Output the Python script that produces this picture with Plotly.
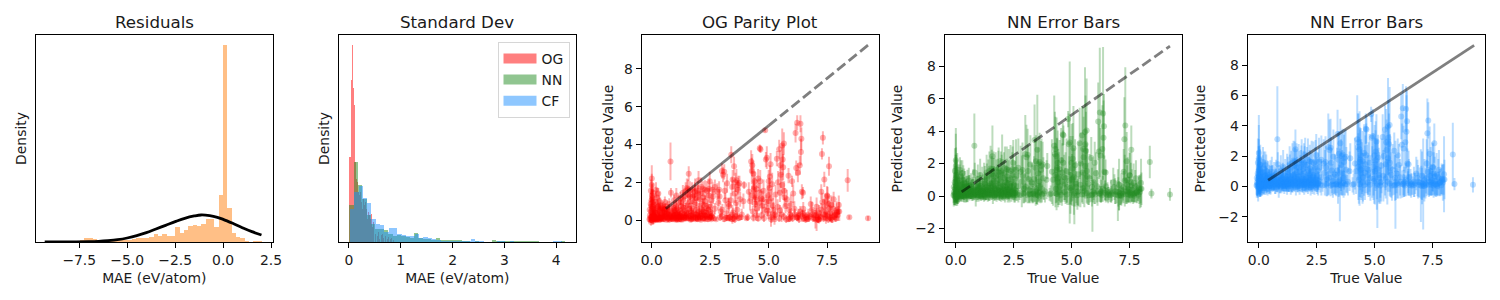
import numpy as np
import plotly.graph_objects as go

FONT = "DejaVu Sans"

# ---- histogram readings (arbitrary density units, y axis is hidden) ----
resid_start, resid_width = -9.30, 0.226
resid_heights = [0.5, 0.5, 0.5, 0.5, 0.5, 0.5, 0.5, 1, 6, 11, 12, 9, 3, 2, 4, 9, 4, 5, 6, 7, 9, 11, 12,
                 13, 15, 25, 18, 25, 19, 19, 45, 28, 36, 48, 50, 47, 55, 70, 70, 45, 141, 591, 101,
                 27, 14, 12, 4, 0.5, 3, 3]
normal_x = [-9.3, -8, -7, -6.5, -6, -5.5, -5, -4.5, -4, -3.5, -3, -2.5, -2, -1.5, -1.15, -0.7, -0.3, 0,
            0.5, 1, 1.5, 2.0]
normal_y = [0, 0.3, 1, 2, 4, 7, 12, 19, 28, 39, 50, 61, 71, 78, 81, 79, 74, 68, 56, 43, 31, 21]

og_start, og_width = -0.01, 0.0192
og_heights = [255, 255, 486, 591, 461, 411, 240, 190, 180, 150, 140, 150, 120, 100, 130, 110, 120, 100,
              70, 90, 80, 70, 85, 45, 60, 0, 25, 0, 18, 30, 10, 0, 20, 25, 12, 0, 18, 0, 10, 14, 0, 8, 12, 0, 6]
nn_start, nn_width = -0.0, 0.0833
nn_heights = [111, 240, 170, 130, 80, 55, 40, 38, 35, 25, 18, 22, 18, 15, 12, 26, 12, 10, 8, 5, 12, 6, 7, 5,
              7, 5, 4, 3, 1, 2, 1, 1, 1, 5, 3, 3, 3, 4, 3, 3, 3, 2, 2, 2, 0, 0, 0, 0, 0, 3]
cf_start, cf_width = 0.01, 0.0833
cf_heights = [100, 150, 168, 131, 117, 69, 53, 51, 31, 41, 41, 24, 21, 18, 17, 24, 12, 15, 12, 10, 5, 4, 4,
              3, 2, 4, 2, 2, 8, 2, 2, 1, 1, 1, 3, 2, 1, 3, 1, 1, 1, 1, 0, 0, 0, 0, 0, 3, 2, 0]

# ---- parity readings ----
true_value = [
    -0.10, -0.08, -0.06, -0.04, -0.02, 0.00, 0.02, 0.04, 0.06, 0.08,
    -0.09, -0.05, -0.03, -0.01, 0.00, 0.01, 0.03, 0.05, 0.07, 0.09,
    -0.07, -0.04, -0.02, 0.00, 0.02, 0.04, 0.06, 0.10, 0.12, 0.14,
    0.16, 0.18, 0.20, 0.22, 0.24, 0.26, 0.28, 0.30, 0.32, 0.34,
    0.36, 0.38, 0.40, 0.44, 0.48, 0.50, 0.54, 0.58, 0.62, 0.66,
    0.70, 0.74, 0.78, 0.80, 0.82, 0.86, 0.90, 0.94, 0.98, 1.02,
    1.06, 1.10, 1.14, 1.18, 1.22, 1.26, 1.30, 1.34, 1.38, 1.42,
    1.46, 1.50, 1.54, 1.58, 1.60, 1.64, 1.68, 1.72, 1.76, 1.80,
    1.84, 1.88, 1.92, 1.96, 2.00, 2.04, 2.08, 2.12, 2.16, 2.20,
    2.24, 2.28, 2.32, 2.36, 2.40, 2.44, 2.48, 2.52, 2.56, 2.60,
    1.10, 1.30, 1.50, 1.70, 1.90, 2.10, 2.30, 2.50, 2.70, 2.75,
    0.30, 0.55, 0.85, 1.00, 1.20, 1.40, 1.60, 1.80, 2.00, 2.20,
    2.85, 2.95, 3.00, 3.05, 3.10, 3.15, 3.20, 3.30, 3.35, 3.40,
    3.42, 3.46, 3.50, 3.52, 3.55, 3.60, 3.62, 3.66, 3.70, 3.75,
    3.78, 3.85, 3.95, 4.05, 4.10, 4.15, 4.20, 4.25, 4.28, 4.30,
    4.32, 4.35, 4.38, 4.40, 4.42, 4.45, 4.48, 4.50, 4.55, 4.60,
    4.62, 4.65, 4.68, 4.72, 4.78, 4.85, 4.88, 4.92, 4.95, 4.98,
    5.00, 5.02, 5.05, 5.08, 5.12, 5.15, 5.20, 5.25, 5.30, 5.35,
    5.40, 5.45, 5.48, 5.50, 5.52, 5.55, 5.58, 5.60, 5.62, 5.65,
    5.68, 5.72, 5.78, 5.85, 5.90, 5.92, 5.95, 6.00, 6.05, 6.10,
    6.15, 6.18, 6.20, 6.22, 6.25, 6.28, 6.30, 6.33, 6.36, 6.38,
    6.40, 6.42, 6.44, 6.47, 6.50, 6.55, 6.60, 6.70, 6.80, 6.85,
    6.90, 6.95, 7.00, 7.05, 7.10, 7.15, 7.20, 7.25, 7.28, 7.30,
    7.32, 7.35, 7.38, 7.42, 7.45, 7.50, 7.52, 7.55, 7.58, 7.60,
    7.63, 7.68, 7.72, 7.78, 7.85, 7.90, 8.00, 8.02, 8.38, 8.45,
    9.25, 0.12, 0.20, 0.35, 0.42, 0.46, 0.52, 0.60, 0.65, 0.72,
    0.76, 0.84, 0.92, 0.96, 1.04, 1.08, 1.12, 1.16, 1.24, 1.28,
    1.36, 1.44, 1.52, 1.56, 1.62, 1.66, 1.74, 1.78, 1.86, 1.94,
    1.98, 2.06, 2.14, 2.18, 2.26, 2.34, 2.42, 2.46, 2.54, 2.65,
    4.95, 5.25, 5.45, 5.65, 5.85, 6.25, 6.45, 6.65, 6.75, 7.05,
    3.25, 3.45, 3.55, 3.65, 3.80, 4.35, 4.55, 4.70, 4.80, 5.10,
    7.15, 7.22, 7.35, 7.42, 7.50, 7.62, 7.70, 7.80, 7.88, 7.95,
    0.02, 0.06, 0.10, 0.13, 0.17, 0.21, 0.25, 0.29, 0.33, 0.37,
    0.45, 0.56, 0.68, 0.75, 0.88, 0.95, 1.03, 1.15, 1.25, 1.35,
    1.40, 1.48, 1.55, 1.65, 1.72, 1.82, 1.90, 1.98, 2.05, 2.15,
    2.20, 2.28, 2.38, 2.45, 2.55, 2.62, 1.05, 1.22, 1.33, 1.45,
    1.55, 1.63, 1.75, 1.85, 1.95, 2.02, 2.12, 2.22, 2.35, 2.50,
    0.52, 0.64, 0.72, 0.88, 1.02, 1.18, 1.32, 1.48, 1.68, 1.88,
    2.05, 2.25, 2.42, 2.58, 0.28, 0.34, 0.44, 0.50, 0.58, 0.15,
    2.90, 3.02, 3.12, 3.18, 3.28, 3.38, 3.48, 3.58, 3.68, 3.72,
    4.30, 4.36, 4.42, 4.48, 4.58, 4.64, 4.74, 4.82, 4.90, 5.04,
    5.10, 5.18, 5.28, 5.38, 5.48, 5.58, 5.66, 5.75, 5.88, 5.98,
    6.02, 6.12, 6.26, 6.35, 6.48, 6.58, 6.72, 6.88, 7.02, 7.12,
    7.25, 7.40, 7.48, 7.56, 7.66, 7.75, 7.82, 7.92, 7.98, 3.92,
    2.70, 2.80, 2.88, 2.92, 3.00, 3.10, 3.22, 3.32, 3.44, 3.58,
    0.08, 0.18, 0.27, 0.38, 0.47, 0.57, 0.67, 0.77, 0.87, 0.97,
    1.07, 1.17, 1.27, 1.37, 1.47, 1.57, 1.67, 1.77, 1.87, 1.97,
    2.07, 2.17, 2.27, 2.37, 2.47, 2.57, 0.03, 0.09, 0.16, 0.23,
    0.33, 0.43, 0.53, 0.63, 0.73, 0.83, 0.93, 1.03, 1.13, 1.23,
]
pred_value = [
    0.05, 0.25, 0.00, 0.45, 0.15, 0.02, 0.60, 0.10, 0.30, 0.08,
    0.55, 0.85, -0.10, 1.05, 2.20, 1.30, 0.70, 0.95, 0.20, 0.50,
    0.12, 1.55, 0.75, 1.85, 1.15, 0.35, 1.45, 0.80, 0.10, 0.40,
    0.95, 1.60, 0.25, 1.20, 0.05, 0.70, 1.40, 0.15, 1.00, 0.45,
    0.80, 0.10, 0.75, 0.30, 0.55, 0.05, 0.55, 0.60, 0.20, 0.70,
    0.10, 0.45, 0.25, 3.10, 1.45, 0.05, 0.35, 0.65, 0.15, 0.30,
    0.60, 0.10, 0.90, 0.25, 0.05, 0.75, 0.35, 1.10, 0.15, 0.50,
    0.20, 1.70, 0.80, 2.45, 0.10, 1.25, 0.40, 1.60, 0.15, 0.95,
    1.50, 0.30, 1.15, 0.05, 2.10, 0.60, 1.40, 0.20, 0.85, 1.65,
    0.10, 1.00, 0.40, 1.55, 0.05, 1.30, 2.05, 0.70, 0.20, 1.60,
    0.02, 0.15, 0.30, 0.05, 0.10, 0.02, 0.22, 0.12, 1.75, 0.05,
    0.22, 0.30, 0.12, 0.45, 0.30, 0.28, 0.60, 0.35, 0.25, 0.45,
    0.90, 0.45, 2.60, 2.40, 2.55, 1.05, 0.35, 0.75, 0.15, 3.45,
    0.05, 2.15, 0.10, 2.85, 1.40, 0.90, 2.10, 0.55, 1.85, 1.95,
    1.10, 0.30, 1.85, 0.10, 0.15, 1.50, 1.00, 3.10, 2.60, 2.90,
    0.45, 2.45, 1.75, 2.05, 0.85, 1.20, 0.25, 0.60, 2.20, 1.45,
    3.80, 3.75, 1.15, 0.75, 1.55, 4.75, 3.20, 3.30, 1.30, 0.35,
    2.05, 1.00, 2.30, 2.95, 0.15, 1.90, 0.55, 0.05, 1.35, 3.25,
    2.00, 3.75, 1.45, 2.90, 2.40, 0.30, 3.95, 3.20, 2.80, 4.05,
    1.20, 0.75, 1.10, 2.35, 0.10, 0.30, 0.85, 2.05, 1.40, 0.60,
    4.60, 2.75, 0.15, 5.15, 2.50, 0.30, 0.05, 2.90, 5.10, 3.60,
    4.30, 1.50, 0.20, 1.45, 0.10, 0.25, 0.15, 0.30, 0.85, 0.55,
    0.10, 0.25, 0.05, 0.70, 0.15, 0.40, 0.20, 1.50, 3.50, 0.95,
    4.35, 0.30, 2.15, 1.00, 0.10, 1.30, 1.25, 0.05, 2.85, 0.65,
    0.35, 0.80, 0.15, 1.10, 0.30, 0.50, 0.80, 0.45, 2.10, 0.15,
    0.10, 0.05, 0.00, 0.02, 0.12, 0.05, 0.18, 0.02, 0.32, 0.00,
    0.12, 0.15, 0.05, 0.25, 0.10, 0.30, 0.20, 0.05, 0.22, 0.12,
    0.05, 0.12, 0.08, 0.35, 0.22, 0.02, 0.30, 0.08, 0.15, 0.30,
    0.18, 0.08, 0.35, 0.10, 0.25, 0.12, 0.30, 0.15, 0.05, 0.10,
    0.50, 0.25, 0.10, 0.18, 0.05, 0.12, 0.35, 0.05, 0.20, 0.02,
    0.10, 0.30, 0.05, 0.22, 0.15, 0.12, 0.08, 0.25, 0.10, 0.05,
    0.02, 0.12, 0.10, 0.30, 0.22, 0.15, 0.02, 0.20, 0.08, 0.25,
    0.18, -0.05, 0.35, 0.15, 0.40, 0.02, 0.30, 0.55, 0.08, 0.25,
    0.62, 0.95, 0.42, 0.85, 0.60, 1.05, 0.75, 0.52, 0.95, 0.65,
    1.25, 0.75, 1.35, 0.95, 0.62, 1.30, 0.80, 1.45, 1.10, 0.55,
    1.20, 1.60, 0.75, 1.65, 1.05, 1.25, 1.30, 1.15, 1.45, 1.55,
    1.65, 1.55, 1.25, 1.70, 1.55, 0.45, 1.75, 0.80, 0.62, 0.45,
    0.42, 0.32, 0.55, 0.40, 0.52, 0.42, 0.55, 0.38, 0.48, 0.52,
    0.32, 0.42, 0.55, 0.35, 0.72, 0.52, 0.45, 0.62, 0.58, 0.62,
    1.25, 0.55, 1.55, 0.12, 0.85, 1.05, 0.40, 0.20, 1.60, 0.10,
    1.30, 1.60, 1.10, 1.65, 0.90, 2.05, 1.10, 0.55, 0.95, 1.70,
    1.15, 0.75, 0.30, 0.70, 0.50, 1.85, 1.55, 0.05, 0.55, 0.20,
    0.10, 0.30, 0.20, 0.45, 0.60, 0.05, 0.10, 0.30, 0.25, 0.05,
    0.55, 0.70, 0.40, 0.85, 0.10, 0.60, 0.25, 0.40, 0.45, 1.00,
    0.60, 1.50, 1.60, 0.15, 0.20, 0.05, 1.95, 0.12, 1.75, 2.00,
    0.22, 0.12, 0.08, 0.18, 0.22, 0.10, 0.15, 0.05, 0.22, 0.08,
    0.18, 0.12, 0.02, 0.22, 0.10, 0.18, 0.12, 0.22, 0.05, 0.12,
    0.15, 0.25, 0.05, 0.20, 0.22, 0.18, -0.02, 0.12, 0.05, 0.15,
    0.02, 0.08, 0.25, 0.12, 0.30, 0.20, 0.30, 0.02, 0.32, 0.15,
]
err_og = [
    .15, .3, .15, .4, .2, .15, .5, .2, .3, .15,
    .5, .6, .2, .6, .7, .6, .5, .6, .3, .5,
    .2, .6, .5, .6, .5, .3, .5, .5, .2, .4,
    .5, .4, .3, .5, .15, .4, .3, .2, .5, .3,
    .4, .2, .3, .3, .4, .15, .3, .3, .2, .35,
    .2, .3, .2, 1.0, .25, .15, .3, .3, .2, .25,
    .3, .2, .4, .2, .15, .3, .25, .4, .2, .3,
    .2, .5, .3, .4, .15, .4, .3, .4, .2, .4,
    .5, .2, .4, .15, .5, .3, .4, .2, .3, .4,
    .15, .3, .25, .5, .15, .4, .5, .3, .2, .4,
    .1, .15, .2, .15, .15, .1, .2, .15, .4, .1,
    .15, .2, .15, .25, .2, .2, .3, .2, .15, .25,
    .4, .3, .4, .4, .4, .4, .3, .4, .2, .45,
    .15, .5, .2, .5, .5, .5, .6, .4, .5, .4,
    .4, .3, .2, .1, .2, .5, .5, .6, .7, .6,
    .3, .7, .5, .5, .4, .4, .3, .4, .5, .5,
    .2, .2, .5, .4, .6, .1, .4, .6, .6, .3,
    .6, .5, .6, .6, .3, .6, .4, .3, .5, .4,
    .6, .5, .5, .8, .7, .4, .9, .8, .7, .6,
    .5, .4, .5, .4, .2, .3, .5, .3, .5, .4,
    .5, .4, .2, .4, .5, .3, .2, .5, .45, .7,
    .6, .4, .3, .3, .2, .3, .2, .3, .4, .4,
    .2, .3, .5, .5, .3, .4, .3, .4, .3, .5,
    .35, .3, .4, .4, .3, .5, .5, .2, .5, .4,
    .4, .5, .3, .4, .4, .5, .5, .5, .6, .1,
    .12, .1, .1, .1, .1, .1, .15, .1, .2, .1,
    .15, .15, .1, .2, .1, .2, .15, .1, .15, .1,
    .1, .15, .1, .2, .15, .1, .2, .1, .15, .2,
    .15, .1, .2, .1, .15, .1, .2, .15, .1, .15,
    .3, .2, .2, .2, .15, .15, .2, .15, .2, .6,
    .15, .5, .2, .2, .15, .2, .15, .2, .2, .4,
    .2, .2, .2, .3, .25, .2, .15, .2, .15, .3,
    .15, .2, .25, .15, .3, .1, .25, .35, .1, .2,
    .25, .3, .25, .3, .25, .3, .3, .25, .35, .3,
    .4, .3, .4, .35, .3, .4, .35, .4, .4, .25,
    .4, .5, .3, .5, .4, .4, .4, .35, .4, .45,
    .5, .5, .4, .5, .5, .25, .5, .35, .3, .25,
    .25, .2, .3, .25, .3, .25, .3, .2, .3, .3,
    .2, .25, .3, .2, .35, .3, .25, .4, .3, .35,
    .4, .3, .45, .15, .35, .4, .25, .2, .5, .15,
    .5, .5, .45, .5, .4, .6, .45, .3, .4, .55,
    .5, .4, .3, .4, .3, .6, .5, .2, .35, .2,
    .2, .3, .2, .3, .35, .2, .2, .3, .3, .2,
    .35, .4, .3, .45, .2, .35, .25, .3, .3, .4,
    .3, .45, .45, .2, .2, .15, .5, .2, .5, .5,
    .12, .1, .12, .1, .12, .1, .12, .1, .12, .1,
    .1, .12, .1, .12, .1, .12, .1, .12, .1, .12,
    .12, .1, .12, .1, .12, .1, .12, .1, .12, .1,
    .1, .12, .1, .12, .1, .12, .1, .12, .1, .12,
]
err_nn = [
    .5, .8, .4, 1.0, .6, .4, 1.2, .5, .9, .4,
    1.2, 1.4, .5, 1.5, 2.0, 1.7, 1.2, 1.3, .7, 1.0,
    .5, 1.4, 1.1, 2.0, 1.4, .8, 1.2, 1.0, .5, .8,
    1.0, .8, .6, 1.0, .4, .9, .8, .5, .9, .7,
    .9, .5, .8, .7, .7, .4, .7, .7, .4, .7,
    .4, .6, .5, 2.0, .6, .7, .7, .6, .5, .5,
    .7, .4, .9, .5, .4, .7, .6, .9, .5, .8,
    .5, 1.4, .9, 1.9, .6, 1.1, .7, 1.1, .5, 1.0,
    1.3, .6, 1.2, .4, 1.7, .9, 1.3, .6, 1.0, 1.4,
    .5, 1.2, .8, 1.6, .4, 1.4, 1.4, 1.1, .6, 1.9,
    .3, .4, .5, .3, .4, .3, .5, .4, 1.8, .3,
    .4, .5, .3, .6, .5, .5, .8, .6, .5, .7,
    1.6, .9, 2.4, 2.0, 1.6, 1.5, .8, 1.2, .6, 2.2,
    .4, 1.6, .6, 3.4, 1.6, 1.2, 1.8, 1.0, 1.7, 1.4,
    1.3, .7, .8, .4, .5, 2.0, 1.6, 3.1, 2.6, 2.0,
    .9, 2.4, 1.8, 2.0, 1.4, 1.5, .8, 1.0, 2.0, 1.8,
    .7, .6, 1.4, 1.0, 2.0, .5, 1.9, 5.0, 2.4, .9,
    2.4, 1.6, 2.2, 2.6, 1.9, 1.6, 1.0, .9, 2.0, 2.2,
    1.9, 1.8, 1.5, 2.6, 2.5, 1.0, 4.0, 3.0, 2.4, 3.2,
    1.7, 1.3, 1.5, 1.3, 2.3, .7, 1.1, 1.3, 1.3, 1.0,
    2.4, 1.7, .5, 4.0, 1.7, .7, .4, 2.7, 4.1, 2.3,
    2.0, 1.0, .5, .8, .4, .6, .4, .7, .9, .8,
    .6, .7, 1.6, 1.6, .7, 1.0, .6, 1.4, 2.6, 1.6,
    3.6, .8, 1.8, 1.4, .5, 1.4, 1.4, .5, 1.5, 1.0,
    .7, 1.2, .5, 1.1, .6, .7, 1.5, 1.0, 1.0, .3,
    .4, .4, .3, .4, .3, .4, .4, .3, .5, .3,
    .4, .4, .3, .5, .3, .5, .4, .3, .5, .4,
    .3, .4, .3, .6, .4, .3, .5, .3, .4, .5,
    .4, .3, .5, .3, .4, .3, .5, .4, .3, .4,
    1.0, .8, .5, .6, .4, .5, .6, .4, .5, .9,
    .4, .9, .4, .6, .4, 1.0, .5, .6, .5, 1.2,
    .5, .4, .5, .7, .6, .5, .4, .6, .4, 1.0,
    .5, .4, .6, .4, .6, .3, .5, .7, .3, .5,
    .6, .8, .6, .8, .7, .9, .7, .6, .9, .8,
    1.0, .8, 1.1, .9, .7, 1.0, .8, 1.1, 1.0, .7,
    1.1, 1.3, .8, 1.4, 1.1, 1.2, 1.0, .9, 1.1, 1.2,
    1.2, 1.2, 1.0, 1.3, 1.2, .6, 1.3, .9, .7, .6,
    .5, .5, .6, .5, .6, .5, .6, .5, .6, .7,
    .5, .6, .7, .5, .7, .6, .6, 1.0, .7, .8,
    1.3, .9, 1.6, .5, 1.2, 1.4, .9, .6, 1.8, .5,
    2.0, 2.0, 1.8, 1.8, 1.5, 2.0, 1.6, 1.1, 1.5, 2.0,
    1.8, 1.4, .9, 1.4, 1.0, 2.0, 1.7, .6, 1.2, .7,
    .6, .9, .6, .8, 1.0, .5, .5, .8, .9, .6,
    1.0, 1.2, .8, 1.2, .6, 1.0, .7, .9, .9, 1.2,
    1.0, 1.6, 1.7, .6, .6, .5, 1.8, .5, 1.8, 1.7,
    .3, .25, .3, .2, .3, .25, .3, .2, .3, .25,
    .2, .3, .25, .3, .2, .3, .25, .3, .2, .3,
    .25, .3, .2, .3, .25, .3, .2, .3, .25, .3,
    .2, .3, .25, .3, .2, .3, .25, .3, .2, .3,
]
err_cf = [
    .6, .9, .6, 1.2, .7, .5, 1.3, .6, 1.0, .5,
    1.3, 1.5, .9, 1.6, 2.5, 1.8, 1.3, 1.5, .9, 1.1,
    .7, 1.6, 1.2, 2.2, 1.5, 1.0, 1.3, 1.1, .7, 1.0,
    1.1, 1.0, .8, 1.1, .6, 1.0, .9, .7, 1.1, .8,
    .9, .7, .9, .8, .8, .6, .8, .8, .5, .9,
    .6, .7, .6, 3.5, .8, .8, .8, .7, .6, .6,
    .8, .6, .9, .6, .6, .8, .7, 1.0, .7, .9,
    .6, 1.3, 1.0, 1.3, .7, 1.2, .8, 1.2, .7, 1.1,
    1.2, .7, 1.2, .6, 1.1, 1.0, 1.2, .7, 1.1, 1.1,
    .7, 1.2, .9, 1.4, .6, 1.3, 1.4, 1.2, .8, 1.6,
    .4, .5, .6, .4, .5, .4, .6, .5, 1.6, .4,
    .5, .6, .4, .7, .6, .6, .8, .7, .6, .8,
    1.5, 1.1, 2.2, 2.0, 1.9, 1.5, 1.1, 1.3, .8, 1.6,
    1.2, 1.5, 2.4, 1.6, 1.7, 1.5, 1.7, 1.3, 1.9, 1.8,
    1.5, .9, 1.0, .5, .7, 1.7, 1.5, 2.9, 2.2, 1.9,
    1.6, 2.5, 2.0, 1.8, 1.6, 1.7, 1.4, 1.6, 1.9, 1.9,
    1.0, .9, 1.6, 1.3, 1.9, .5, 1.5, 1.8, 2.2, 1.5,
    2.0, 2.2, 2.0, 1.8, 2.9, 1.5, 1.7, 1.2, 1.8, 1.5,
    1.6, 1.6, 1.7, 2.2, 2.0, 1.5, 3.2, 2.5, 2.0, 2.5,
    1.9, 1.5, 1.7, 1.2, 2.9, 1.2, 1.3, 1.1, 1.4, 1.2,
    1.5, 1.4, .9, 1.6, 1.5, 1.0, .7, 2.0, 1.5, 2.4,
    2.0, 1.0, .8, .9, .7, .9, .7, 1.0, 1.1, 1.2,
    .8, 1.0, 2.4, 1.6, 3.0, 1.4, 1.0, 1.6, 2.3, 1.5,
    1.2, 1.0, 1.8, 1.6, .7, 1.6, 1.6, .8, 1.3, 1.3,
    1.0, 1.4, .8, 1.3, .9, 1.0, 2.5, 1.3, 2.1, .4,
    .5, .5, .5, .5, .5, .5, .5, .4, .6, .5,
    .5, .5, .5, .6, .4, .6, .5, .4, .6, .5,
    .4, .5, .4, .7, .5, .4, .6, .4, .5, .6,
    .5, .4, .6, .4, .5, .4, .6, .5, .4, .5,
    1.1, 1.0, .7, .8, .6, .7, .8, .6, .7, 1.2,
    .6, 1.0, .6, .8, .6, 1.4, .7, .8, .7, 1.6,
    .7, .6, .7, .9, .8, .7, .6, .8, .6, 1.2,
    .6, .6, .7, .6, .7, .5, .7, .8, .5, .6,
    .8, 1.0, .7, .9, .8, 1.0, .8, .7, 1.0, .9,
    1.1, .9, 1.2, 1.0, .8, 1.1, .9, 1.2, 1.1, .8,
    1.2, 1.4, .9, 1.4, 1.2, 1.3, 1.1, 1.0, 1.2, 1.3,
    1.3, 1.3, 1.1, 1.4, 1.3, .7, 1.4, 1.0, .8, .7,
    .6, .6, .7, .6, .7, .6, .7, .6, .7, .8,
    .6, .7, .8, .6, .8, .7, .7, 1.1, .8, .9,
    1.4, 1.1, 1.7, .7, 1.3, 1.5, 1.0, .8, 1.8, .7,
    2.2, 2.3, 2.0, 2.0, 1.8, 2.1, 1.8, 1.5, 1.7, 2.0,
    2.0, 1.8, 1.3, 1.7, 1.3, 2.2, 1.9, 1.0, 1.5, 1.0,
    .9, 1.1, .9, 1.1, 1.2, .8, .8, 1.1, 1.1, .8,
    1.2, 1.3, 1.0, 1.4, .8, 1.2, .9, 1.0, 1.0, 1.3,
    1.2, 1.6, 1.7, .8, .8, .7, 1.8, .7, 1.8, 1.7,
    .4, .35, .4, .3, .4, .35, .4, .3, .4, .35,
    .3, .4, .35, .4, .3, .4, .35, .4, .3, .4,
    .35, .4, .3, .4, .35, .4, .3, .4, .35, .4,
    .3, .4, .35, .4, .3, .4, .35, .4, .3, .4,
]

parity_og_solid = [0.6, 5.0]
parity_og_dashed = [5.0, 9.25]
parity_nn_dashed = [0.25, 9.25]
parity_cf_solid = [0.4, 9.3]

# ---- layout readings (window pixels); the page body keeps its default 8px margin ----
PAGE_MARGIN = 8
PANEL_LEFT = [35.5, 338.5, 641.5, 944.5, 1247.5]
PANEL_W = 237.5
PANEL_TOP, PANEL_BOTTOM = 35.0, 242.0
W, H = 1484, 284

titles = ["Residuals", "Standard Dev", "OG Parity Plot", "NN Error Bars", "NN Error Bars"]
x_titles = ["MAE (eV/atom)", "MAE (eV/atom)", "True Value", "True Value", "True Value"]
y_titles = ["Density", "Density", "Predicted Value", "Predicted Value", "Predicted Value"]
x_ranges = [[-9.78, 2.6], [-0.2, 4.38], [-0.44, 9.72], [-0.49, 9.77], [-0.49, 9.77]]
y_ranges = [[0, 620.6], [0, 620.6], [-1.16, 9.79], [-2.84, 9.94], [-3.67, 9.98]]
x_ticks = [[-7.5, -5, -2.5, 0, 2.5], [0, 1, 2, 3, 4], [0, 2.5, 5, 7.5], [0, 2.5, 5, 7.5], [0, 2.5, 5, 7.5]]
x_ticktext = [["−7.5", "−5.0", "−2.5", "0.0", "2.5"], ["0", "1", "2", "3", "4"],
              ["0.0", "2.5", "5.0", "7.5"], ["0.0", "2.5", "5.0", "7.5"], ["0.0", "2.5", "5.0", "7.5"]]
y_ticks = [[], [], [0, 2, 4, 6, 8], [-2, 0, 2, 4, 6, 8], [-2, 0, 2, 4, 6, 8]]
y_ticktext = [[], [], ["0", "2", "4", "6", "8"], ["−2", "0", "2", "4", "6", "8"], ["−2", "0", "2", "4", "6", "8"]]
y_standoff = [4, 4, 7, 9, 9]

ORANGE = "rgba(255,127,14,0.5)"
RED_H, GREEN_H, BLUE_H = "rgba(255,0,0,0.5)", "rgba(34,139,34,0.5)", "rgba(30,144,255,0.5)"
LINE = "rgba(0,0,0,0.5)"
DASH = "10.3px,4.4px"


def px_x(p):
    return (p - PAGE_MARGIN) / W


def px_y(p):
    return 1 - (p - PAGE_MARGIN) / H


def centers(start, width, heights):
    return start + width * (np.arange(len(heights)) + 0.5)


fig = go.Figure()


def hist(start, width, heights, color, axis, name):
    fig.add_trace(go.Bar(x=centers(start, width, heights), y=heights, width=width, name=name,
                         marker=dict(color=color, line=dict(width=0)), showlegend=False,
                         xaxis=f"x{axis}", yaxis=f"y{axis}"))


hist(resid_start, resid_width, resid_heights, ORANGE, 1, "Residuals")
fig.add_trace(go.Scatter(x=normal_x, y=normal_y, mode="lines", line=dict(color="black", width=2.8, shape="spline"),
                         showlegend=False, xaxis="x1", yaxis="y1"))
hist(og_start, og_width, og_heights, RED_H, 2, "OG")
hist(nn_start, nn_width, nn_heights, GREEN_H, 2, "NN")
hist(cf_start, cf_width, cf_heights, BLUE_H, 2, "CF")
for name, color in [("OG", RED_H), ("NN", GREEN_H), ("CF", BLUE_H)]:
    fig.add_trace(go.Scatter(x=[None], y=[None], mode="lines", name=name, line=dict(color=color, width=10),
                             showlegend=True, xaxis="x2", yaxis="y2"))


def parity(errs, color, axis):
    fig.add_trace(go.Scatter(
        x=true_value, y=pred_value, mode="markers", showlegend=False,
        marker=dict(color=color, size=6, line=dict(width=0)),
        error_y=dict(type="data", array=errs, symmetric=True, color=color, thickness=2, width=0),
        xaxis=f"x{axis}", yaxis=f"y{axis}"))


def ref_line(xs, axis, dash):
    fig.add_trace(go.Scatter(x=xs, y=xs, mode="lines", showlegend=False,
                             line=dict(color=LINE, width=2.8, dash=dash),
                             xaxis=f"x{axis}", yaxis=f"y{axis}"))


parity(err_og, "rgba(255,0,0,0.3)", 3)
ref_line(parity_og_solid, 3, "solid")
ref_line(parity_og_dashed, 3, DASH)
parity(err_nn, "rgba(34,139,34,0.3)", 4)
ref_line(parity_nn_dashed, 4, DASH)
parity(err_cf, "rgba(30,144,255,0.3)", 5)
ref_line(parity_cf_solid, 5, "solid")

layout = dict(
    template="none",
    width=W, height=H, margin=dict(l=0, r=0, t=0, b=0, pad=0), autosize=False,
    paper_bgcolor="white", plot_bgcolor="white", barmode="overlay", bargap=0,
    font=dict(family=FONT, size=13.9, color="#1a1a1a"),
    legend=dict(x=px_x(569.5), y=px_y(42), xanchor="right", yanchor="top", bgcolor="white",
                bordercolor="rgba(204,204,204,0.8)", borderwidth=1, itemwidth=33,
                font=dict(family=FONT, size=13.9), traceorder="normal"),
)
annotations = []
for i in range(5):
    n = i + 1
    left = PANEL_LEFT[i]
    layout[f"xaxis{'' if n == 1 else n}"] = dict(
        domain=[px_x(left), px_x(left + PANEL_W)], range=x_ranges[i], anchor=f"y{n}", automargin=False,
        tickmode="array", tickvals=x_ticks[i], ticktext=x_ticktext[i],
        ticks="outside", ticklen=5, tickwidth=1, tickcolor="black",
        showline=True, linecolor="black", linewidth=1, mirror=True, showgrid=False, zeroline=False,
        title=dict(text=x_titles[i], standoff=6, font=dict(family=FONT, size=13.9)),
    )
    layout[f"yaxis{'' if n == 1 else n}"] = dict(
        domain=[px_y(PANEL_BOTTOM), px_y(PANEL_TOP)], range=y_ranges[i], anchor=f"x{n}", automargin=False,
        tickmode="array", tickvals=y_ticks[i], ticktext=y_ticktext[i],
        ticks="outside" if y_ticks[i] else "", ticklen=5, tickwidth=1, tickcolor="black",
        showticklabels=bool(y_ticks[i]),
        showline=True, linecolor="black", linewidth=1, mirror=True, showgrid=False, zeroline=False,
        title=dict(text=y_titles[i], standoff=y_standoff[i], font=dict(family=FONT, size=13.9)),
    )
    annotations.append(dict(text=titles[i], xref="paper", yref="paper", x=px_x(left + PANEL_W / 2),
                            y=px_y(22), xanchor="center", yanchor="middle", showarrow=False,
                            font=dict(family=FONT, size=16.67, color="#1a1a1a")))
layout["annotations"] = annotations
fig.update_layout(**layout)
fig.write_html("out.html")
